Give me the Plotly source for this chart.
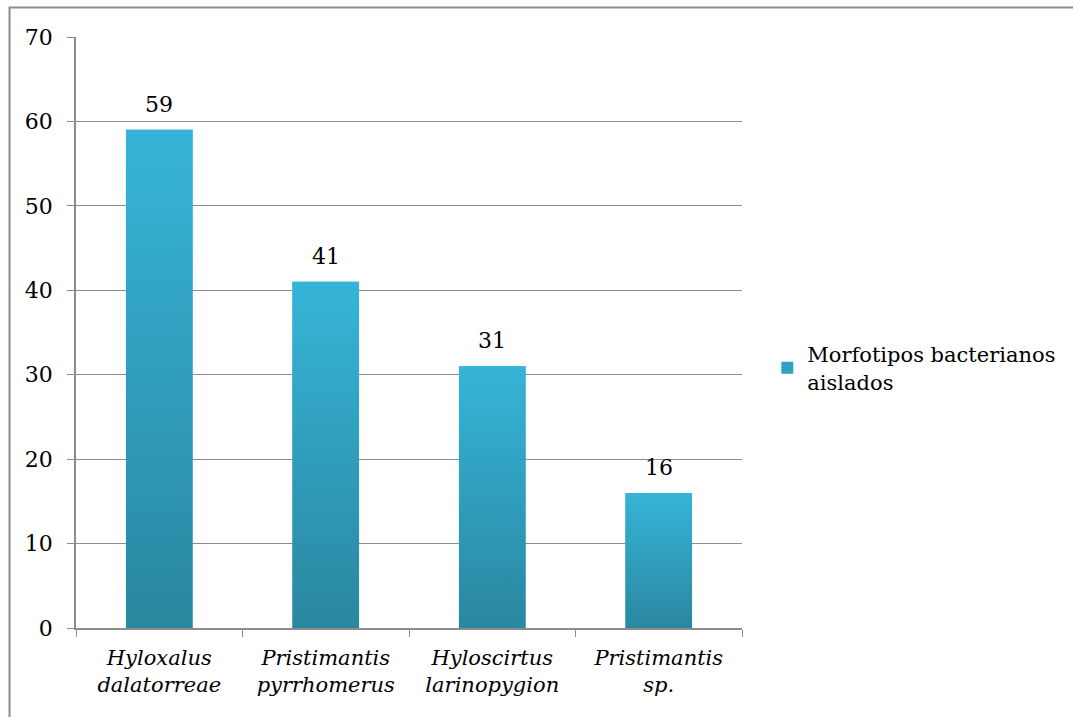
import plotly.graph_objects as go

# Species (two-line italic labels) and number of isolated bacterial morphotypes
species = [
    "<i>Hyloxalus<br>dalatorreae</i>",
    "<i>Pristimantis<br>pyrrhomerus</i>",
    "<i>Hyloscirtus<br>larinopygion</i>",
    "<i>Pristimantis<br>sp.</i>",
]
morphotypes = [59, 41, 31, 16]
series_name = "Morfotipos bacterianos<br>aislados"
y_ticks = [0, 10, 20, 30, 40, 50, 60, 70]

FONT = "DejaVu Serif"
FS_TEXT = 21
FS_NUM = 22
GRID = "#8c8c8c"
TOP = "#36b4d8"
BOTTOM = "#2a87a0"
BAR_WIDTH = 0.4

fig = go.Figure()

# Base bar trace: carries the legend entry
fig.add_trace(go.Bar(
    x=species,
    y=morphotypes,
    width=BAR_WIDTH,
    name=series_name,
    marker=dict(color="#31a2c3", line=dict(width=0)),
    hovertemplate="%{y}<extra></extra>",
))

# Vertical gradient overlay for each bar, on a numeric twin of the category axis
for i, v in enumerate(morphotypes):
    x0, x1 = i - BAR_WIDTH / 2, i + BAR_WIDTH / 2
    fig.add_trace(go.Scatter(
        x=[x0, x1, x1, x0, x0],
        y=[0, 0, v, v, 0],
        xaxis="x2",
        mode="lines",
        line=dict(width=0),
        fill="toself",
        fillgradient=dict(type="vertical",
                          colorscale=[[0, BOTTOM], [1, TOP]]),
        hoverinfo="skip",
        showlegend=False,
    ))

# Value labels above each bar
for s, v in zip(species, morphotypes):
    fig.add_annotation(x=s, y=v, xref="x", yref="y", text=str(v),
                       showarrow=False, yanchor="bottom", yshift=11,
                       font=dict(family=FONT, size=FS_NUM, color="black"))

# Outer frame of the chart area (top and left edges visible)
fig.add_shape(type="rect", xref="paper", yref="paper",
              x0=-0.0998, x1=2.0, y0=-1.0, y1=1.0499,
              line=dict(color=GRID, width=2), fillcolor="rgba(0,0,0,0)",
              layer="below")

fig.update_layout(
    width=1073,
    height=717,
    margin=dict(l=76, r=331, t=37, b=89),
    paper_bgcolor="white",
    plot_bgcolor="white",
    font=dict(family=FONT, size=FS_TEXT, color="black"),
    bargap=0.6,
    xaxis=dict(
        type="category",
        range=[-0.5, 3.5],
        showline=True,
        linecolor=GRID,
        linewidth=1.5,
        ticks="outside",
        tickson="boundaries",
        ticklen=7,
        tickcolor=GRID,
        ticklabelstandoff=10,
        tickfont=dict(family=FONT, size=FS_TEXT, color="black"),
        showgrid=False,
        fixedrange=True,
    ),
    xaxis2=dict(
        overlaying="x",
        range=[-0.5, 3.5],
        visible=False,
        fixedrange=True,
    ),
    yaxis=dict(
        range=[0, 70],
        tickvals=y_ticks,
        showgrid=True,
        gridcolor=GRID,
        gridwidth=1,
        zeroline=False,
        showline=True,
        linecolor=GRID,
        linewidth=1.5,
        ticks="outside",
        ticklen=7,
        tickcolor=GRID,
        ticklabelstandoff=10,
        tickfont=dict(family=FONT, size=FS_NUM, color="black"),
        fixedrange=True,
    ),
    legend=dict(
        x=1.038,
        y=0.44,
        xanchor="left",
        yanchor="middle",
        font=dict(family=FONT, size=FS_TEXT, color="black"),
        bgcolor="rgba(0,0,0,0)",
        itemwidth=30,
    ),
)

fig.write_html("out.html")
